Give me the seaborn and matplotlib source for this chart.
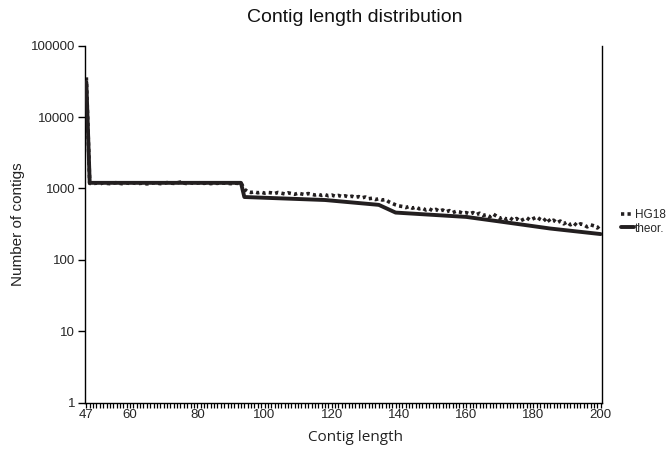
import numpy as np
import pandas as pd
import matplotlib
matplotlib.use("Agg")
import matplotlib.pyplot as plt
import seaborn as sns
from matplotlib.lines import Line2D

# ---- data ----
lengths = list(range(47, 201))

hg18 = [36000,
        # 48-93
        1180, 1170, 1190, 1160, 1200, 1180, 1170, 1190, 1210, 1180,
        1160, 1190, 1180, 1200, 1170, 1180, 1190, 1160, 1180, 1200,
        1190, 1170, 1180, 1210, 1190, 1180, 1200, 1230, 1190, 1170,
        1200, 1180, 1190, 1210, 1180, 1200, 1170, 1190, 1180, 1200,
        1190, 1180, 1170, 1190, 1180, 1200,
        # 94-95
        980, 900,
        # 96-115
        880, 900, 870, 890, 860, 880, 870, 850, 880, 860,
        840, 870, 850, 830, 860, 840, 820, 850, 830, 810,
        # 116-135
        830, 800, 820, 790, 810, 780, 800, 770, 790, 760,
        780, 750, 770, 740, 760, 720, 730, 700, 720, 690,
        # 136-140
        700, 650, 620, 590, 570,
        # 141-160
        560, 540, 560, 530, 550, 520, 530, 500, 520, 490,
        510, 480, 500, 470, 490, 460, 480, 470, 450, 460,
        # 161-180
        440, 460, 430, 450, 420, 430, 400, 440, 410, 380,
        400, 370, 390, 360, 380, 350, 370, 390, 360, 380,
        # 181-200
        400, 370, 350, 390, 340, 360, 330, 350, 320, 340,
        310, 330, 300, 320, 310, 290, 310, 300, 280, 310]

theor_x = [47, 48, 93, 94, 118, 134, 139, 160, 170, 185, 200]
theor_y = [31000, 1200, 1200, 760, 690, 590, 460, 400, 345, 275, 230]

xtick_vals = [47, 60, 80, 100, 120, 140, 160, 180, 200]
ytick_vals = [1, 10, 100, 1000, 10000, 100000]
ytick_labels = ["1", "10", "100", "1000", "10000", "100000"]

assert len(hg18) == len(lengths)

df_hg = pd.DataFrame({"length": lengths, "count": hg18})
df_th = pd.DataFrame({"length": theor_x, "count": theor_y})

sns.set_theme(style="white")
plt.rcParams["font.family"] = ["Liberation Sans", "DejaVu Sans"]

fig = plt.figure(figsize=(6.7, 4.5), dpi=100)
ax = fig.add_axes([85 / 670, 1 - 402.7 / 450, (602 - 85) / 670, (402.7 - 45.7) / 450])

ink = "#231f20"
sns.lineplot(data=df_hg, x="length", y="count", ax=ax, color=ink,
             linewidth=2.6, linestyle=(0, (0.9, 0.9)), dash_capstyle="butt",
             estimator=None, sort=False, zorder=2)
sns.lineplot(data=df_th, x="length", y="count", ax=ax, color=ink,
             linewidth=2.8, estimator=None, sort=False, zorder=3)

ax.set_yscale("log")
ax.set_ylim(1, 100000)
ax.set_xlim(46.6, 200.4)

ax.set_yticks(ytick_vals)
ax.set_yticklabels(ytick_labels)
ax.yaxis.set_minor_locator(matplotlib.ticker.NullLocator())
ax.set_xticks(xtick_vals)
ax.set_xticklabels([str(v) for v in xtick_vals])
ax.set_xticks(lengths, minor=True)

ax.tick_params(axis="y", which="major", direction="out", length=5, width=1,
               color="black", labelsize=9.5, pad=2, left=True)
ax.tick_params(axis="x", which="both", direction="out", length=3.5, width=0.9,
               color="black", labelsize=9.5, pad=1, bottom=True)

for side in ["left", "bottom", "right"]:
    ax.spines[side].set_visible(True)
    ax.spines[side].set_color("black")
    ax.spines[side].set_linewidth(1.0)
ax.spines["top"].set_visible(False)

ax.set_xlabel("Contig length", fontsize=11, family=["Open Sans", "DejaVu Sans"],
              color="#222222")
ax.xaxis.set_label_coords((355 - 85) / 517, -27 / 357)
ax.set_ylabel("Number of contigs", fontsize=11, color="#222222")
ax.yaxis.set_label_coords(-(85 - 25) / 517, 0.5)
fig.text(355 / 670, 1 - 18 / 450, "Contig length distribution", fontsize=14,
         ha="center", va="center", color="#111111")

handles = [Line2D([], [], color=ink, linewidth=2.6, linestyle=(0, (0.9, 0.9)),
                  dash_capstyle="butt"),
           Line2D([], [], color=ink, linewidth=2.8)]
fig.legend(handles, ["HG18", "theor."], loc="center left",
           bbox_to_anchor=(621 / 670, 1 - 222 / 450), frameon=False,
           fontsize=8.5, handlelength=1.1, handletextpad=0.1, labelspacing=0.1,
           borderaxespad=0, borderpad=0)

fig.savefig("out.png", dpi=100)
